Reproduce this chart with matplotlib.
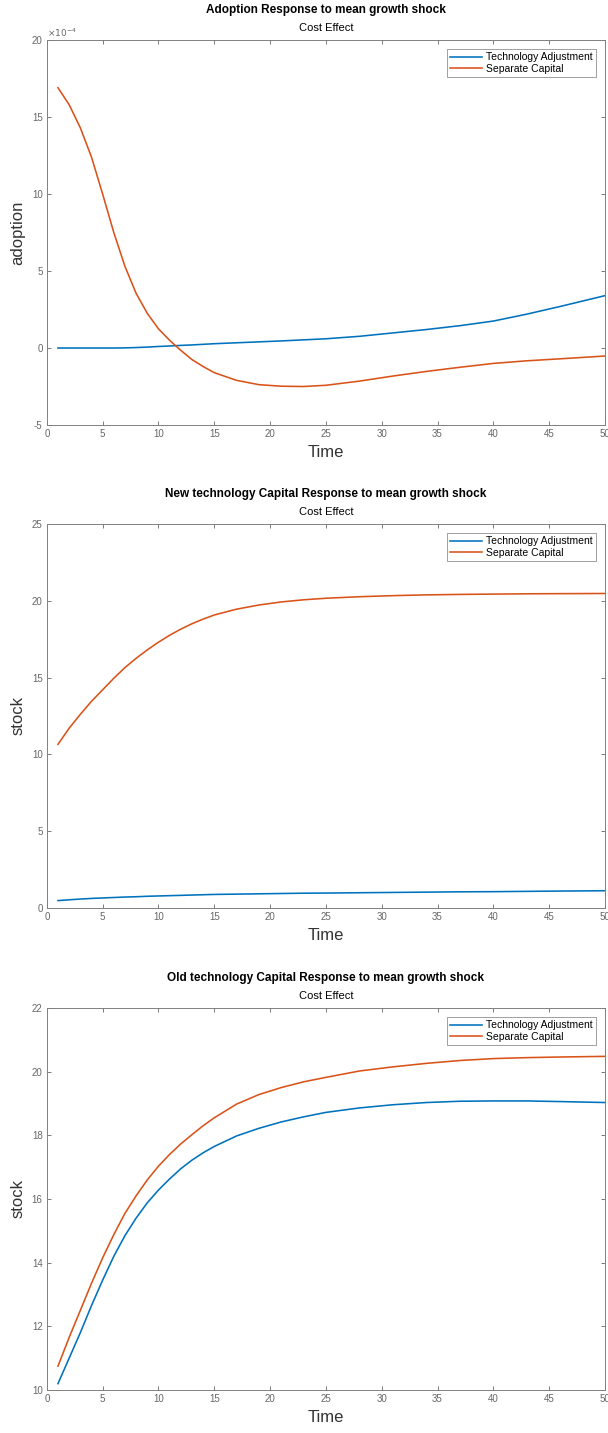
import numpy as np
import matplotlib
matplotlib.use("Agg")
import matplotlib.pyplot as plt

plt.rcParams['font.family'] = ['Liberation Sans', 'DejaVu Sans']

# periods
t = [1, 2, 3, 4, 5, 6, 7, 8, 9, 10, 11, 12, 13, 14, 15, 17, 19, 21, 23, 25,
     28, 31, 34, 37, 40, 43, 46, 50]

# adoption response (units of 1e-4)
adopt_tech = [0, 0, 0, 0, 0, 0, 0.01, 0.03, 0.06, 0.1, 0.13, 0.17, 0.2, 0.24,
              0.28, 0.34, 0.4, 0.46, 0.53, 0.6, 0.76, 0.98, 1.2, 1.45, 1.75,
              2.2, 2.7, 3.4]
adopt_sep = [16.9, 15.8, 14.3, 12.4, 10.0, 7.5, 5.3, 3.55, 2.25, 1.25, 0.5, -0.15,
             -0.75, -1.2, -1.6, -2.1, -2.38, -2.48, -2.5, -2.42, -2.15, -1.82,
             -1.52, -1.25, -1.0, -0.83, -0.7, -0.52]

# new technology capital stock
new_tech = [0.48, 0.53, 0.58, 0.62, 0.65, 0.68, 0.71, 0.73, 0.76, 0.78, 0.8,
            0.82, 0.84, 0.86, 0.88, 0.9, 0.92, 0.94, 0.96, 0.97, 0.99, 1.01,
            1.03, 1.05, 1.06, 1.08, 1.1, 1.12]
new_sep = [10.65, 11.7, 12.6, 13.45, 14.2, 14.95, 15.65, 16.25, 16.8, 17.3,
           17.75, 18.15, 18.5, 18.8, 19.07, 19.45, 19.72, 19.92, 20.06, 20.16,
           20.26, 20.33, 20.38, 20.41, 20.43, 20.45, 20.46, 20.47]

# old technology capital stock
old_tech = [10.2, 11.0, 11.8, 12.65, 13.45, 14.2, 14.85, 15.4, 15.88, 16.28,
            16.63, 16.95, 17.22, 17.45, 17.65, 17.98, 18.22, 18.42, 18.58, 18.72,
            18.86, 18.96, 19.03, 19.07, 19.08, 19.08, 19.06, 19.03]
old_sep = [10.75, 11.65, 12.5, 13.35, 14.15, 14.88, 15.55, 16.1, 16.6, 17.03,
           17.4, 17.73, 18.02, 18.3, 18.55, 18.98, 19.28, 19.5, 19.68, 19.82,
           20.02, 20.15, 20.26, 20.35, 20.41, 20.44, 20.46, 20.48]

titulos = ["Adoption Response to mean growth shock",
           "New technology Capital Response to mean growth shock",
           "Old technology Capital Response to mean growth shock"]
ylabels = ["adoption", "stock", "stock"]
series = [(np.array(adopt_tech) * 1e-4, np.array(adopt_sep) * 1e-4),
          (new_tech, new_sep),
          (old_tech, old_sep)]
ylims = [(-5e-4, 20e-4), (0, 25), (10, 22)]
yticks = [np.arange(-5, 21, 5), np.arange(0, 26, 5), np.arange(10, 23, 2)]
yescala = [1e-4, 1, 1]
legenda = ["Technology Adjustment", "Separate Capital"]

azul = (0, 0.447, 0.741)
laranja = (0.85, 0.325, 0.098)

fig = plt.figure(figsize=(6.08, 14.33), dpi=100)
# axes rectangles in figure fraction
posicoes = [[0.077, 0.7034, 0.918, 0.2687],
            [0.077, 0.3664, 0.918, 0.2680],
            [0.077, 0.0300, 0.918, 0.2666]]

for i in range(3):
    ax = fig.add_axes(posicoes[i])
    y1, y2 = series[i]
    ax.plot(t, y1, color=azul, lw=1.15, label=legenda[0])
    ax.plot(t, y2, color=laranja, lw=1.15, label=legenda[1])
    ax.set_xlim(0, 50)
    ax.set_ylim(*ylims[i])
    ax.set_xticks(np.arange(0, 51, 5))
    ax.set_yticks(yticks[i] * yescala[i])
    ax.set_yticklabels([str(v) for v in yticks[i]])
    ax.tick_params(direction='in', top=True, right=True, length=3, width=0.6,
                   labelsize=7, colors='0.4', pad=3)
    for s in ax.spines.values():
        s.set_color('0.5')
        s.set_linewidth(0.7)
    ax.set_xlabel("Time", fontsize=12, color='0.2', labelpad=4)
    ax.set_ylabel(ylabels[i], fontsize=12, color='0.2')
    ax.yaxis.set_label_coords(-0.038, 0.5)
    ax.text(0.5, 1.078, titulos[i], transform=ax.transAxes, ha='center',
            va='center', fontsize=8.5, fontweight='bold')
    ax.text(0.5, 1.031, "Cost Effect", transform=ax.transAxes, ha='center',
            va='center', fontsize=8)
    if i == 0:
        ax.text(0.0, 1.003, r'$\times10^{-4}$', transform=ax.transAxes,
                ha='left', va='bottom', fontsize=6.5, color='0.4')
    leg = ax.legend(loc='upper right', fontsize=7.5, frameon=True, fancybox=False,
                    handlelength=3.0, borderpad=0.3, labelspacing=0.15,
                    handletextpad=0.4, borderaxespad=0.9)
    leg.get_frame().set_edgecolor('0.45')
    leg.get_frame().set_linewidth(0.6)

fig.savefig("out.png", dpi=100)
